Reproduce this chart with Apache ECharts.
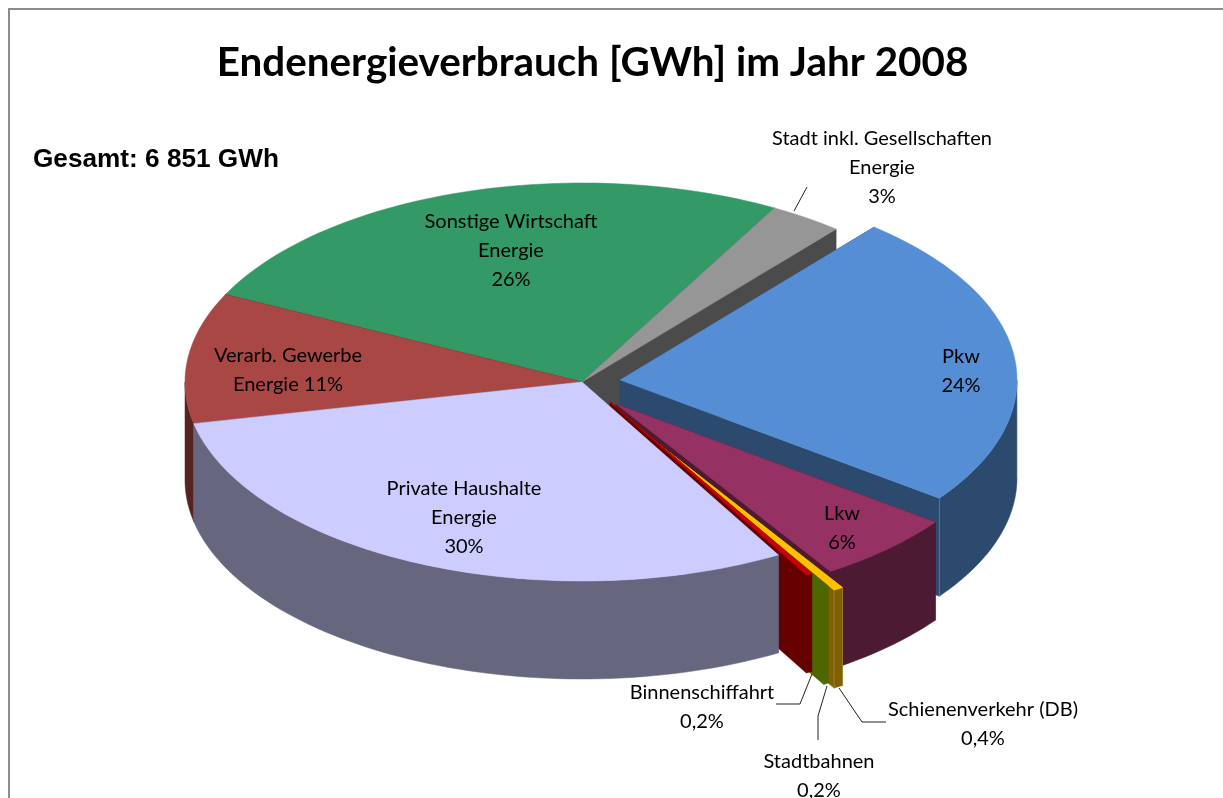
<!DOCTYPE html>
<html><head><meta charset="utf-8">
<style>html,body{margin:0;padding:0;background:#fff}#c{width:1223px;height:798px}</style>
<script src="https://cdn.jsdelivr.net/npm/echarts@6/dist/echarts.min.js"></script>
</head><body><div id="c"></div>
<script>
// ---- data (clockwise from the upper edge of the Pkw slice) ----
const categories = ['Pkw','Lkw','Schienenverkehr (DB)','Stadtbahnen','Binnenschifffahrt','Private Haushalte Energie','Verarb. Gewerbe Energie','Sonstige Wirtschaft Energie','Stadt inkl. Gesellschaften Energie'];
const gwhValues = [1649,397,27,14,17,2047,726,1768,206];
const labelTexts = ['Pkw\n24%','Lkw\n6%','Schienenverkehr (DB)\n0,4%','Stadtbahnen\n0,2%','Binnenschiffahrt\n0,2%','Private Haushalte\nEnergie\n30%','Verarb. Gewerbe\nEnergie 11%','Sonstige Wirtschaft\nEnergie\n26%','Stadt inkl. Gesellschaften\nEnergie\n3%'];

// ---- styling and layout ----
const topColors  = ['#558ed5','#953163','#ffc000','#4d6600','#cc0000','#ccccff','#a94744','#339966','#969696'];
const wallColors = ['#2b4a6e','#4d1a33','#806000','#4d6600','#660000','#66667f','#552422','#1a4d33','#4b4b4b'];
const explode = [[38,-2],[34,22],[46,38],[40,33],[28,20],[0,0],[0,0],[0,0],[0,0]];
const labelAt = [[961,371],[842,528],[983,724],[819,776],[702,707],[464,518],[288,370],[511,251],[882,168]];
// paint steps, back to front: [slice, part]; the yellow top is laid again over the green one
const paintSteps = [[7,'all'],[6,'all'],[8,'all'],[0,'all'],[1,'all'],[2,'all'],[3,'all'],[2,'top'],[4,'all'],[5,'all']];
const edgeLit = [0,2];
const CX=582, CY=382, RX=397, RY=199, DEPTH=98, START=-50.2;
const leaders = [
  [[807,187],[794,211]],
  [[776,704],[800,704],[812,674]],
  [[818,740],[818,716],[827,686]],
  [[886,722],[862,722],[839,688]]
];

const total = gwhValues.reduce((a,b)=>a+b,0);
const rad = d=>d*Math.PI/180;
const spans = []; let acc = START;
gwhValues.forEach(v=>{const s=acc; acc+=v/total*360; spans.push([s,acc]);});

function renderSlice(params, api){
  const step = paintSteps[params.dataIndex];
  const i = step[0];
  const [t0,t1] = spans[i];
  const cx = CX+explode[i][0], cy = CY+explode[i][1];
  const rim = t=>[cx+RX*Math.cos(rad(t)), cy+RY*Math.sin(rad(t))];
  const arc = [];
  const n = Math.max(2,Math.ceil((t1-t0)/1.5));
  for(let k=0;k<=n;k++) arc.push(rim(t0+(t1-t0)*k/n));
  const down = p=>[p[0],p[1]+DEPTH];
  const poly = (pts,fill)=>({type:'polygon',shape:{points:pts},style:{fill,stroke:fill,lineWidth:0.5}});
  const c=[cx,cy], children=[];
  if(step[1]==='all'){
    children.push(poly([c,arc[0],down(arc[0]),down(c)],wallColors[i]));
    children.push(poly([c,arc[n],down(arc[n]),down(c)],wallColors[i]));
    const a0=Math.max(t0,0), a1=Math.min(t1,180);
    if(a1>a0){
      const w=[]; const m=Math.max(2,Math.ceil((a1-a0)/1.5));
      for(let k=0;k<=m;k++) w.push(rim(a0+(a1-a0)*k/m));
      children.push(poly(w.concat(w.map(down).reverse()),wallColors[i]));
    }
    if(edgeLit.includes(i)){
      [a0,t1].forEach(t=>{const p=rim(t);
        children.push({type:'polyline',shape:{points:[p,down(p)]},style:{stroke:'rgba(255,255,255,0.2)',lineWidth:1,fill:'none'}});});
    }
  }
  children.push(poly([c].concat(arc),topColors[i]));
  return {type:'group',children};
}

const option = {
  animation:false,
  backgroundColor:'#fff',
  title:{text:'Endenergieverbrauch [GWh] im Jahr 2008',left:587.5,top:38,textAlign:'center',
    textStyle:{fontFamily:'Lato',fontWeight:'bold',fontSize:40.4,color:'#000'}},
  graphic:[
    {type:'rect',shape:{x:9,y:9,width:1300,height:900},style:{fill:'none',stroke:'#8c8c8c',lineWidth:2},silent:true,z:0},
    {type:'text',x:33,y:160,style:{text:'Gesamt: 6 851 GWh',font:'bold 26.2px "Liberation Sans"',fill:'#000',verticalAlign:'middle'},z:5}
  ].concat(leaders.map(p=>({type:'polyline',shape:{points:p},style:{stroke:'#222',lineWidth:1,fill:'none'},z:5}))),
  series:[
    {type:'custom',coordinateSystem:'none',renderItem:renderSlice,silent:true,z:2,
     data:paintSteps.map(s=>({name:categories[s[0]],value:[s[0],gwhValues[s[0]]]}))},
    {type:'custom',coordinateSystem:'none',silent:true,z:3,
     renderItem:(p,api)=>{const i=api.value(0);return {type:'text',style:{text:labelTexts[i],x:labelAt[i][0],y:labelAt[i][1],align:'center',verticalAlign:'middle',font:'20px Lato',lineHeight:29,fill:'#000'}};},
     data:categories.map((c,i)=>({name:c,value:[i]}))}
  ]
};
const chart = echarts.init(document.getElementById('c'),null,{renderer:'canvas'});
chart.setOption(option);
</script></body></html>
